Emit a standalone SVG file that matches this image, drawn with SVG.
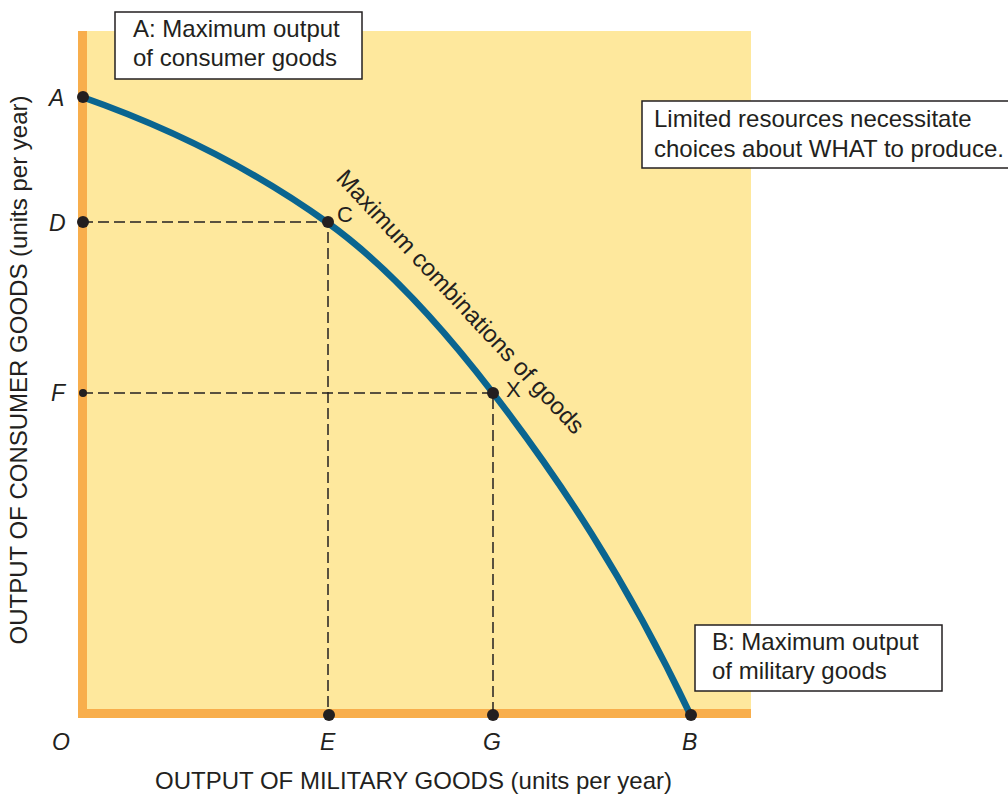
<svg xmlns="http://www.w3.org/2000/svg" width="1008" height="795" viewBox="0 0 1008 795">
<style>
text{font-family:"Liberation Sans",Arial,Helvetica,sans-serif;fill:#231f20}
.lbl{font-size:24px}
.pt{font-size:23px;font-style:italic}
.cx{font-size:22px}
.ax{font-size:24px}
.box{fill:#fff;stroke:#231f20;stroke-width:1.5}
.dash{fill:none;stroke:#231f20;stroke-width:1.5;stroke-dasharray:11 5}
.dot{fill:#231f20}
</style>
<rect width="1008" height="795" fill="#fff"/>
<g id="plot">
<rect x="78" y="31" width="673" height="687" fill="#fee89d"/>
<rect x="78" y="31" width="9" height="687" fill="#f8ae4c"/>
<rect x="78" y="709" width="673" height="9" fill="#f8ae4c"/>
</g>
<g id="connectors">
<path class="dash" d="M82,222H328V713"/>
<path class="dash" d="M82,393H493V713"/>
<path id="ppf" d="M82,97C164,125.7 246,164 328,223C383,262.6 438,321.5 493,393C558.7,478.4 624.3,576 690,714" fill="none" stroke="#0a6590" stroke-width="6.5"/>
</g>
<g id="point-A"><circle class="dot" cx="83" cy="97" r="6"/><text class="pt" x="49" y="106">A</text></g>
<g id="point-D"><circle class="dot" cx="83" cy="222" r="6"/><text class="pt" x="49" y="231">D</text></g>
<g id="point-F"><circle class="dot" cx="83" cy="393" r="4"/><text class="pt" x="51" y="401">F</text></g>
<g id="point-C"><circle class="dot" cx="328" cy="222" r="6"/><text class="cx" x="337" y="222">C</text></g>
<g id="point-X"><circle class="dot" cx="493" cy="393" r="6"/><text class="cx" x="506" y="397">X</text></g>
<g id="point-E"><circle class="dot" cx="329" cy="715" r="6"/><text class="pt" x="320" y="750">E</text></g>
<g id="point-G"><circle class="dot" cx="493" cy="715" r="6"/><text class="pt" x="483" y="750">G</text></g>
<g id="point-B"><circle class="dot" cx="691" cy="715" r="6"/><text class="pt" x="682" y="750">B</text></g>
<g id="origin"><text class="pt" x="52" y="750">O</text></g>
<g id="curve-label"><text class="lbl" transform="translate(335,179) rotate(47)">Maximum combinations of goods</text></g>
<g id="box-A"><rect class="box" x="115" y="12" width="247" height="67"/><text class="lbl" x="133" y="37">A: Maximum output</text><text class="lbl" x="133" y="66">of consumer goods</text></g>
<g id="box-B"><rect class="box" x="695" y="625" width="247" height="66"/><text class="lbl" x="712" y="650">B: Maximum output</text><text class="lbl" x="712" y="679">of military goods</text></g>
<g id="box-note"><rect class="box" x="642" y="101" width="380" height="67"/><text class="lbl" x="654" y="127">Limited resources necessitate</text><text class="lbl" x="654" y="157">choices about WHAT to produce.</text></g>
<g id="x-title"><text class="ax" x="155" y="789">OUTPUT OF MILITARY GOODS (units per year)</text></g>
<g id="y-title"><text class="ax" text-anchor="middle" transform="translate(27,370) rotate(-90)">OUTPUT OF CONSUMER GOODS (units per year)</text></g>
</svg>
